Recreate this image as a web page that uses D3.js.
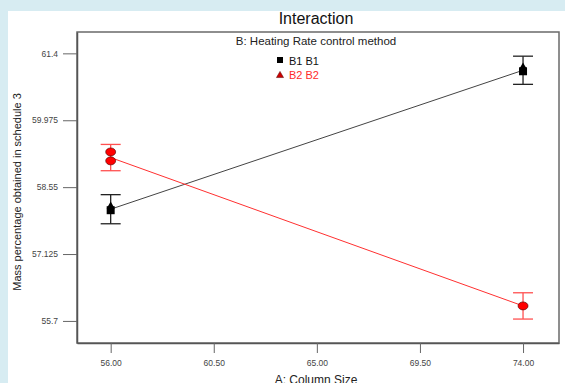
<!DOCTYPE html>
<html>
<head>
<meta charset="utf-8">
<style>
  body { margin: 0; background: #d7ecf2; }
  svg { display: block; font-family: Arial, "Liberation Sans", sans-serif; }
</style>
</head>
<body>
<svg id="chart" width="565" height="383"></svg>
<script src="https://d3js.org/d3.v7.min.js"></script>
<script>
// factor levels and predicted means
var xLevels = [56, 74];
var b1Means = [58.08, 61.04];
var b2Means = [59.18, 56.02];
var b1Err = [0.31, 0.30];
var b2Err = [0.28, 0.28];
// design points shown as markers
var b1Points = [[56, 58.08], [74, 61.04]];
var b2Points = [[56, 59.30], [56, 59.11], [74, 56.02]];

var xTicks = [56, 60.5, 65, 69.5, 74];
var yTicks = [55.7, 57.125, 58.55, 59.975, 61.4];
var yTickLabels = ["55.7", "57.125", "58.55", "59.975", "61.4"];

var svg = d3.select("#chart");

// white panel
svg.append("rect")
  .attr("x", 8).attr("y", 11)
  .attr("width", 560).attr("height", 380)
  .attr("fill", "#fff");

var plotLeft = 77, plotRight = 559, plotTop = 32, plotBottom = 343;

var x = d3.scaleLinear().domain([54.53, 75.57]).range([plotLeft, plotRight]);
var y = d3.scaleLinear().domain([55.23, 61.855]).range([plotBottom, plotTop]);

// frame
svg.append("rect")
  .attr("x", plotLeft).attr("y", plotTop)
  .attr("width", plotRight - plotLeft).attr("height", plotBottom - plotTop)
  .attr("fill", "none")
  .attr("stroke", "#6a6a6a")
  .attr("stroke-width", 1.5);

// axes
var yAxis = d3.axisLeft(y)
  .tickValues(yTicks)
  .tickSize(14)
  .tickSizeOuter(0)
  .tickPadding(5)
  .tickFormat(function(d, i) { return yTickLabels[i]; });
var gy = svg.append("g").attr("transform", "translate(" + plotLeft + ",0)").call(yAxis);
gy.select(".domain").attr("stroke", "#555").attr("stroke-width", 1.5);
gy.selectAll(".tick line").attr("stroke", "#666");
gy.selectAll(".tick text").attr("font-size", 8.5).attr("fill", "#444").attr("font-family", "Arial, sans-serif");

var xAxis = d3.axisBottom(x)
  .tickValues(xTicks)
  .tickSize(10)
  .tickSizeOuter(0)
  .tickPadding(7)
  .tickFormat(d3.format(".2f"));
var gx = svg.append("g").attr("transform", "translate(0," + plotBottom + ")").call(xAxis);
gx.select(".domain").attr("stroke", "#555").attr("stroke-width", 1.5);
gx.selectAll(".tick line").attr("stroke", "#666");
gx.selectAll(".tick text").attr("font-size", 8.5).attr("fill", "#444").attr("font-family", "Arial, sans-serif");

// titles
svg.append("text")
  .attr("x", 316).attr("y", 24)
  .attr("text-anchor", "middle")
  .attr("font-size", 16)
  .attr("fill", "#111")
  .text("Interaction");

svg.append("text")
  .attr("x", 316).attr("y", 45)
  .attr("text-anchor", "middle")
  .attr("font-size", 11.5)
  .attr("fill", "#222")
  .text("B: Heating Rate control method");

svg.append("text")
  .attr("transform", "translate(21,192) rotate(-90)")
  .attr("text-anchor", "middle")
  .attr("font-size", 11)
  .attr("fill", "#222")
  .text("Mass percentage obtained in schedule 3");

svg.append("text")
  .attr("x", 316).attr("y", 384)
  .attr("text-anchor", "middle")
  .attr("font-size", 12)
  .attr("fill", "#222")
  .text("A: Column Size");

// legend
svg.append("rect")
  .attr("x", 277).attr("y", 57).attr("width", 6).attr("height", 6)
  .attr("fill", "#000");
svg.append("text")
  .attr("x", 289).attr("y", 64.5)
  .attr("font-size", 11).attr("fill", "#111")
  .text("B1 B1");
svg.append("path")
  .attr("d", d3.symbol().type(d3.symbolTriangle).size(22))
  .attr("transform", "translate(280,75.5)")
  .attr("fill", "#c00")
  .attr("stroke", "#500")
  .attr("stroke-width", 0.5);
svg.append("text")
  .attr("x", 289).attr("y", 79)
  .attr("font-size", 11).attr("fill", "#ff2a2a")
  .text("B2 B2");

// interaction lines
var line = d3.line()
  .x(function(d) { return x(d[0]); })
  .y(function(d) { return y(d[1]); });

svg.append("path")
  .datum(xLevels.map(function(v, i) { return [v, b1Means[i]]; }))
  .attr("d", line)
  .attr("fill", "none")
  .attr("stroke", "#444")
  .attr("stroke-width", 1);

svg.append("path")
  .datum(xLevels.map(function(v, i) { return [v, b2Means[i]]; }))
  .attr("d", line)
  .attr("fill", "none")
  .attr("stroke", "#ff3030")
  .attr("stroke-width", 1);

// error bars
function errorBars(means, errs, colour) {
  var g = svg.append("g").attr("stroke", colour).attr("stroke-width", 1.3);
  xLevels.forEach(function(v, i) {
    var cx = x(v), y0 = y(means[i] - errs[i]), y1 = y(means[i] + errs[i]);
    g.append("line").attr("x1", cx).attr("x2", cx).attr("y1", y0).attr("y2", y1);
    g.append("line").attr("x1", cx - 10).attr("x2", cx + 10).attr("y1", y0).attr("y2", y0);
    g.append("line").attr("x1", cx - 10).attr("x2", cx + 10).attr("y1", y1).attr("y2", y1);
  });
}
errorBars(b1Means, b1Err, "#222");
errorBars(b2Means, b2Err, "#ff5050");

// markers
b1Points.forEach(function(p) {
  svg.append("path")
    .attr("d", d3.symbol().type(d3.symbolSquare).size(64))
    .attr("transform", "translate(" + x(p[0]) + "," + (y(p[1]) + 1) + ")")
    .attr("fill", "#000");
  svg.append("path")
    .attr("d", d3.symbol().type(d3.symbolTriangle).size(28))
    .attr("transform", "translate(" + x(p[0]) + "," + (y(p[1]) - 3) + ")")
    .attr("fill", "#000");
});

b2Points.forEach(function(p) {
  svg.append("ellipse")
    .attr("cx", x(p[0])).attr("cy", y(p[1]))
    .attr("rx", 5).attr("ry", 4)
    .attr("fill", "#f00")
    .attr("stroke", "#400")
    .attr("stroke-width", 0.6);
});
</script>
</body>
</html>
